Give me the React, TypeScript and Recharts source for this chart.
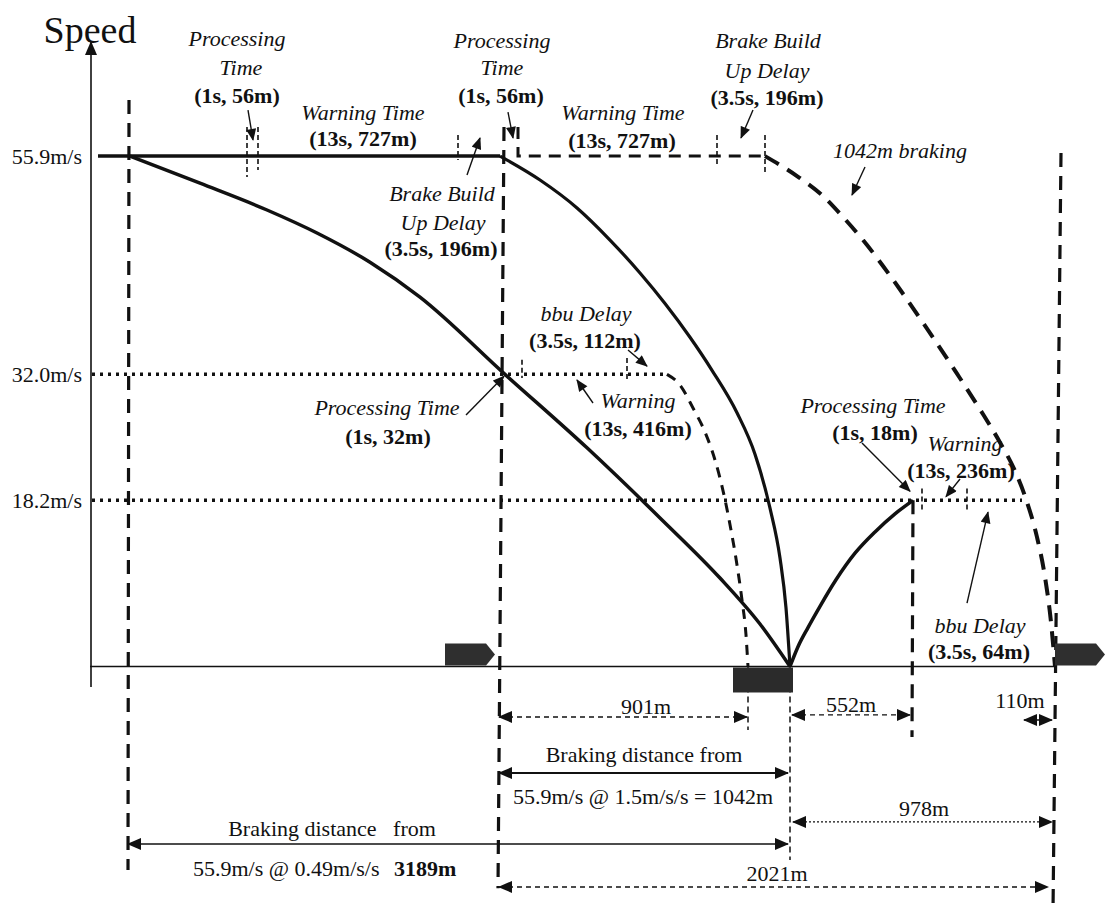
import React from 'react';
import { ComposedChart, Line, Scatter, XAxis, YAxis } from 'recharts';

const FONT = "'Liberation Serif','Times New Roman',Times,serif";
const INK = '#111';

// ---- speed axis (m/s) ----
const speedTicks = [18.2, 32.0, 55.9];
const tickLabels = ['18.2m/s', '32.0m/s', '55.9m/s'];

// ---- curves: [position along track (schematic), speed m/s] ----
const gentleBrakingCurve: [number, number][] = [
  [130, 55.9], [200, 52.93], [267, 50.0], [317, 47.48], [370, 44.28], [420, 40.45],
  [505, 32.0], [587, 23.95], [660, 16.27], [720, 9.69], [760, 4.65], [790, 0],
];
const steepBrakingCurve: [number, number][] = [
  [500, 55.9], [540, 53.28], [577, 50.22], [610, 46.71], [640, 43.1], [665, 39.76],
  [690, 36.06], [712, 32.44], [737, 27.79], [755, 23.25], [770, 17.34], [780, 11.88],
  [786, 6.41], [790, 0],
];
const restartCurve: [number, number][] = [
  [790, 0], [798, 2.17], [808, 4.26], [820, 6.59], [836, 9.5], [855, 12.41],
  [875, 14.74], [895, 16.72], [913, 18.2],
];
const brakingFrom32: [number, number][] = [
  [667, 32.0], [680, 30.83], [693, 28.31], [705, 25.68], [715, 22.62], [724, 18.78],
  [731, 14.95], [737, 11.12], [742, 7.28], [746, 3.45], [748, 0],
];
const braking1042: [number, number][] = [
  [765, 55.9], [797, 53.72], [823, 51.53], [843, 49.23], [863, 46.71], [883, 43.87],
  [900, 41.29], [927, 37.0], [957, 32.07], [980, 28.16], [1000, 24.54], [1015, 21.42],
  [1027, 18.01], [1037, 14.17], [1045, 9.79], [1051, 4.86], [1055, 0],
];

// ---- level lines ----
const cruiseSolid: [number, number][] = [[98, 55.9], [500, 55.9]];
const cruiseDashed: [number, number][] = [[518, 59.1], [518, 55.9], [765, 55.9]];
const level32: [number, number][] = [[92, 32.0], [667, 32.0]];
const level18: [number, number][] = [[92, 18.2], [1022, 18.2]];

// ---- vertical markers ----
const thickVerticals: [number, number][][] = [
  [[129, 62.05], [128, -22.3]],
  [[504, 59.09], [498, -24.3]],
  [[1061, 56.24], [1053, -26.9]],
  [[913, 18.2], [912, -7.72]],
];
const thinVerticals: [number, number][][] = [
  [[790, 0], [790, -21.2]],
  [[748, 0], [748, -6.96]],
];
const smallTicks: [number, number][][] = [
  [[247, 59.09], [247, 53.61]],
  [[258, 59.09], [258, 54.38]],
  [[458, 58.21], [458, 55.48]],
  [[717, 58.21], [717, 54.93]],
  [[765, 58.21], [765, 54.16]],
  [[522, 33.6], [522, 31.6]],
  [[627, 33.8], [627, 31.4]],
  [[922, 19.5], [922, 16.9]],
  [[967, 19.5], [967, 16.9]],
];

// ---- annotation arrows (from, to) ----
const pointerArrows: [number, number][][] = [
  [[248, 60.95], [253, 57.67]],
  [[508, 60.73], [513, 57.89]],
  [[753, 60.95], [741, 57.89]],
  [[865, 54.71], [852, 51.64]],
  [[467, 53.83], [480, 57.89]],
  [[628, 34.66], [647, 32.9]],
  [[466, 27.55], [504, 31.8]],
  [[593, 28.86], [577, 31.38]],
  [[862, 24.48], [910, 19.2]],
  [[960, 20.54], [946, 18.6]],
  [[967, 6.95], [988, 16.9]],
];

// ---- distance dimension arrows ----
const dimFrom = [499, 792, 1024, 499, 793, 128, 499];
const dimTo = [747, 910, 1052, 788, 1052, 788, 1048];
const dimLevel = [-5.53, -5.31, -5.86, -11.67, -17.03, -19.44, -24.15];
const dimDash = ['5 4', '5 4', '', '', '2 2', '', '5 4'];
const dimWidth = [1.3, 1.3, 1.5, 2, 1.3, 1.6, 1.3];

// ---- axes drawn as lines ----
const speedAxis: [number, number][] = [[91, -2.25], [91, 68.4]];
const trackLine: [number, number][] = [[90, 0], [1056, 0]];

// ---- trains ----
const trains = [
  { x: 445, y: 0, kind: 'moving' },
  { x: 733, y: 0, kind: 'stopped' },
  { x: 1055, y: 0, kind: 'moving' },
];

// ---- texts ----
const titleText = [{ x: 90, y: 69.8, text: 'Speed', kind: 'r', size: 38 }];
const annotationTexts = [
  { x: 237, y: 68.84, text: 'Processing', kind: 'i' },
  { x: 241, y: 65.66, text: 'Time', kind: 'i' },
  { x: 237, y: 62.59, text: '(1s, 56m)', kind: 'b' },
  { x: 363, y: 60.73, text: 'Warning Time', kind: 'i' },
  { x: 363, y: 57.89, text: '(13s, 727m)', kind: 'b' },
  { x: 502, y: 68.62, text: 'Processing', kind: 'i' },
  { x: 502, y: 65.66, text: 'Time', kind: 'i' },
  { x: 501, y: 62.59, text: '(1s, 56m)', kind: 'b' },
  { x: 623, y: 60.73, text: 'Warning Time', kind: 'i' },
  { x: 622, y: 57.67, text: '(13s, 727m)', kind: 'b' },
  { x: 768, y: 68.62, text: 'Brake Build', kind: 'i' },
  { x: 767, y: 65.33, text: 'Up Delay', kind: 'i' },
  { x: 767, y: 62.38, text: '(3.5s, 196m)', kind: 'b' },
  { x: 900, y: 56.57, text: '1042m braking', kind: 'i' },
  { x: 442, y: 51.86, text: 'Brake Build', kind: 'i' },
  { x: 443, y: 48.68, text: 'Up Delay', kind: 'i' },
  { x: 441, y: 45.84, text: '(3.5s, 196m)', kind: 'b' },
  { x: 586, y: 38.72, text: 'bbu Delay', kind: 'i' },
  { x: 585, y: 35.76, text: '(3.5s, 112m)', kind: 'b' },
  { x: 387, y: 28.42, text: 'Processing Time', kind: 'i' },
  { x: 388, y: 25.25, text: '(1s, 32m)', kind: 'b' },
  { x: 638, y: 29.19, text: 'Warning', kind: 'i' },
  { x: 638, y: 26.12, text: '(13s, 416m)', kind: 'b' },
  { x: 873, y: 28.64, text: 'Processing Time', kind: 'i' },
  { x: 875, y: 25.68, text: '(1s, 18m)', kind: 'b' },
  { x: 965, y: 24.48, text: 'Warning', kind: 'i' },
  { x: 961, y: 21.52, text: '(13s, 236m)', kind: 'b' },
  { x: 980, y: 4.54, text: 'bbu Delay', kind: 'i' },
  { x: 979, y: 1.7, text: '(3.5s, 64m)', kind: 'b' },
];
const distanceTexts = [
  { x: 646, y: -4.33, text: '901m', kind: 'r' },
  { x: 851, y: -4.11, text: '552m', kind: 'r' },
  { x: 1020, y: -3.67, text: '110m', kind: 'r' },
  { x: 644, y: -9.58, text: 'Braking distance from', kind: 'r' },
  { x: 643, y: -14.18, text: '55.9m/s @ 1.5m/s/s = 1042m', kind: 'r' },
  { x: 924, y: -15.5, text: '978m', kind: 'r' },
  { x: 332, y: -17.69, text: 'Braking distance   from', kind: 'r' },
  { x: 193, y: -22.07, text: '55.9m/s @ 0.49m/s/s', kind: 'r', anchor: 'start' },
  { x: 394, y: -22.07, text: '3189m', kind: 'b', anchor: 'start' },
  { x: 777, y: -22.62, text: '2021m', kind: 'r' },
];

const toPts = (arr: [number, number][]) => arr.map(([x, y]) => ({ x, y }));

const TextShape = (props: any) => {
  const { cx, cy, payload } = props;
  if (cx == null || cy == null) return <g />;
  const k = payload.kind;
  return (
    <text
      x={cx}
      y={cy}
      dy="0.35em"
      textAnchor={payload.anchor ?? 'middle'}
      fontFamily={FONT}
      fontSize={payload.size ?? 22}
      fontStyle={k === 'i' ? 'italic' : 'normal'}
      fontWeight={k === 'b' ? 700 : 400}
      fill={INK}
      style={{ whiteSpace: 'pre' }}
    >
      {payload.text}
    </text>
  );
};

const TrainShape = (props: any) => {
  const { cx, cy, payload } = props;
  if (cx == null || cy == null) return <g />;
  if (payload.kind === 'stopped') {
    return <rect x={cx} y={cy + 1} width={60} height={25} fill="#2b2b2b" />;
  }
  const pts = [
    [cx, cy - 23], [cx + 41, cy - 23], [cx + 50, cy - 12], [cx + 41, cy - 1], [cx, cy - 1],
  ].map((p) => p.join(',')).join(' ');
  return <polygon points={pts} fill="#2f2f2f" />;
};

const line = (
  key: string,
  pts: [number, number][],
  width: number,
  dash?: string,
  extra: any = {},
) => (
  <Line
    key={key}
    data={toPts(pts)}
    dataKey="y"
    type={extra.type ?? 'linear'}
    stroke={INK}
    strokeWidth={width}
    strokeDasharray={dash || undefined}
    dot={false}
    activeDot={false}
    isAnimationActive={false}
    legendType="none"
    markerEnd={extra.markerEnd}
    markerStart={extra.markerStart}
  />
);

export default function App() {
  return (
    <div style={{ position: 'absolute', left: 0, top: 0, width: 1110, height: 913, background: '#fff' }}>
      <ComposedChart width={1110} height={913} margin={{ top: 0, right: 10, bottom: 0, left: 0 }}>
        <defs>
          <marker id="ahS" viewBox="0 0 12 10" refX="11" refY="5" markerWidth="13" markerHeight="10"
            orient="auto-start-reverse" markerUnits="userSpaceOnUse">
            <path d="M0,0 L12,5 L0,10 Z" fill={INK} />
          </marker>
          <marker id="ahL" viewBox="0 0 14 12" refX="13" refY="6" markerWidth="15" markerHeight="12"
            orient="auto-start-reverse" markerUnits="userSpaceOnUse">
            <path d="M0,0 L14,6 L0,12 Z" fill={INK} />
          </marker>
        </defs>
        <XAxis type="number" dataKey="x" domain={[90, 1100]} hide />
        <YAxis
          type="number"
          dataKey="y"
          domain={[-27, 73]}
          ticks={speedTicks}
          interval={0}
          width={90}
          axisLine={false}
          tickLine={false}
          tickFormatter={(v: number) => tickLabels[speedTicks.indexOf(v)] ?? String(v)}
          tick={{ fontSize: 22, fill: INK, fontFamily: FONT }}
        />

        {line('axis', speedAxis, 1.6, undefined, { markerEnd: 'url(#ahL)' })}
        {line('track', trackLine, 1.6)}

        {line('lvl32', level32, 3.5, '3 5')}
        {line('lvl18', level18, 3.5, '3 5')}
        {line('cruiseSolid', cruiseSolid, 3.5)}
        {line('cruiseDashed', cruiseDashed, 3, '12 8')}

        {thickVerticals.map((v, i) => line('tv' + i, v, 3.2, '14 9'))}
        {thinVerticals.map((v, i) => line('thv' + i, v, 1.5, '6 4'))}
        {smallTicks.map((v, i) => line('tk' + i, v, 1.6, '5 3'))}

        {line('gentle', gentleBrakingCurve, 3.5, undefined, { type: 'monotone' })}
        {line('steep', steepBrakingCurve, 3.2, undefined, { type: 'monotone' })}
        {line('restart', restartCurve, 3.5, undefined, { type: 'monotone' })}
        {line('from32', brakingFrom32, 3, '10 8', { type: 'monotone' })}
        {line('b1042', braking1042, 4, '16 10', { type: 'monotone' })}

        {pointerArrows.map((a, i) => line('pa' + i, a, 1.4, undefined, { markerEnd: 'url(#ahS)' }))}
        {dimFrom.map((f, i) =>
          line('dim' + i, [[f, dimLevel[i]], [dimTo[i], dimLevel[i]]], dimWidth[i], dimDash[i], {
            markerEnd: 'url(#ahL)',
            markerStart: 'url(#ahL)',
          }),
        )}

        <Scatter data={trains} dataKey="y" shape={TrainShape} isAnimationActive={false} legendType="none" />
        <Scatter data={titleText} dataKey="y" shape={TextShape} isAnimationActive={false} legendType="none" />
        <Scatter data={annotationTexts} dataKey="y" shape={TextShape} isAnimationActive={false} legendType="none" />
        <Scatter data={distanceTexts} dataKey="y" shape={TextShape} isAnimationActive={false} legendType="none" />
      </ComposedChart>
    </div>
  );
}
